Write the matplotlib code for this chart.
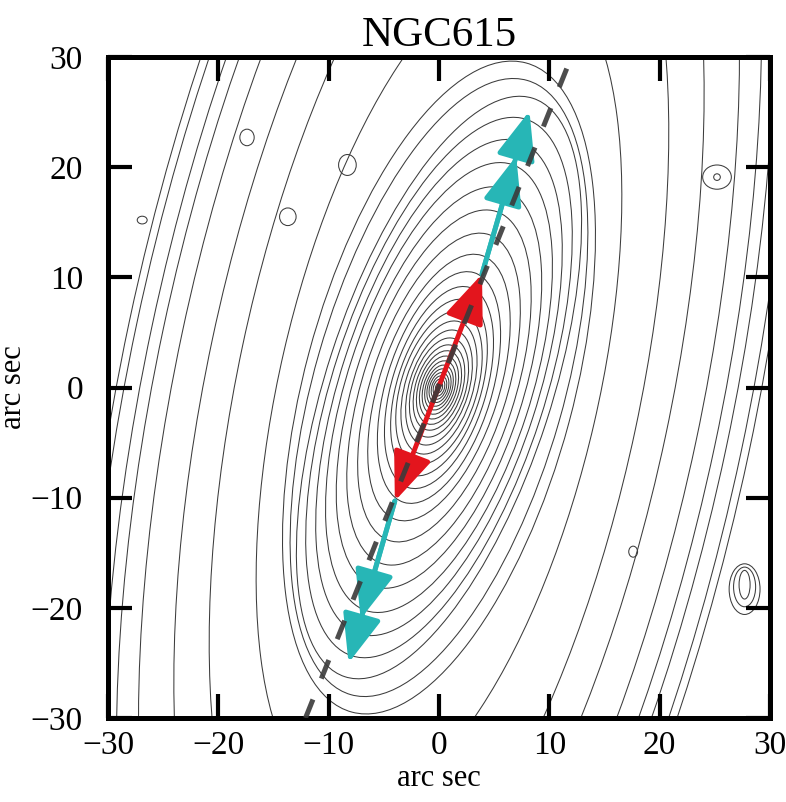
import matplotlib
matplotlib.use('Agg')
import matplotlib.pyplot as plt
from matplotlib.patches import Ellipse

plt.rcParams['font.family'] = ['Liberation Serif', 'DejaVu Serif']

# isophotes: semi-major axis (arcsec), axis ratio, angle from +x (deg)
iso_a = [0.5, 0.8, 1.1, 1.4, 1.75, 2.1, 2.5, 2.95, 3.45, 4.0, 4.65, 5.4, 6.25, 7.2, 8.3, 9.5, 10.9,
         12.6, 14.6, 16.8, 19.0, 21.3, 23.5, 25.6, 27.6,
         29.0, 30.5, 39.0,
         52.0, 60.0, 68.0, 73.0, 76.0, 80.0, 82.0]
iso_q = [0.62, 0.62, 0.60, 0.60, 0.58, 0.57, 0.56, 0.55, 0.54, 0.53, 0.52, 0.50, 0.49, 0.48, 0.46, 0.45, 0.44,
         0.43, 0.42, 0.41, 0.40, 0.39, 0.38, 0.375, 0.37,
         0.39, 0.40, 0.37,
         0.35, 0.35, 0.35, 0.35, 0.35, 0.35, 0.35]
iso_pa = [73] * 17 + [72] * 8 + [74, 75, 77] + [78] * 7

# small knots / field objects: centre, width, height (arcsec)
src_x = [-17.4, -8.3, -13.7, -26.9, 25.2, 25.2, 17.6, 27.7, 27.7, 27.7]
src_y = [22.7, 20.2, 15.5, 15.2, 19.1, 19.1, -14.9, -18.3, -18.1, -17.9]
src_w = [1.3, 1.6, 1.5, 0.9, 2.6, 0.6, 0.8, 2.8, 2.0, 1.0]
src_h = [1.5, 1.9, 1.6, 0.7, 2.2, 0.6, 1.0, 4.6, 3.6, 2.6]

# position-angle line and kinematic arrows
pa_x = [-12.1, 12.0]
pa_y = [-30.0, 30.0]
red_start = (-4.0, -10.3)
red_end = (3.9, 10.3)
cyan_up_start = (3.9, 10.3)
cyan_up_tips = [(7.0, 21.0), (8.2, 25.1)]
cyan_dn_start = (-4.0, -10.3)
cyan_dn_tips = [(-7.1, -21.0), (-8.2, -25.0)]

ticks = [-30, -20, -10, 0, 10, 20, 30]

fig = plt.figure(figsize=(7.86, 8.02), dpi=100)
ax = fig.add_axes([0.1374, 0.1047, 0.8422, 0.8242])

for a, q, pa in zip(iso_a, iso_q, iso_pa):
    ax.add_patch(Ellipse((0, 0), 2 * a, 2 * a * q, angle=pa, fill=False,
                         ec='#3c3c3c', lw=0.75))
for x, y, w, h in zip(src_x, src_y, src_w, src_h):
    ax.add_patch(Ellipse((x, y), w, h, fill=False, ec='#3c3c3c', lw=0.75))

# arrows
red = '#e3151d'
cyan = '#27b6b6'
head = 'head_length=1.5,head_width=0.6'
ax.annotate('', xy=red_end, xytext=red_start,
            arrowprops=dict(arrowstyle='<|-|>,' + head,
                            color=red, lw=3.5, mutation_scale=20, shrinkA=0, shrinkB=0),
            zorder=5)
for start, tips in [(cyan_up_start, cyan_up_tips), (cyan_dn_start, cyan_dn_tips)]:
    for tip in tips:
        ax.annotate('', xy=tip, xytext=start,
                    arrowprops=dict(arrowstyle='-|>,' + head,
                                    color=cyan, lw=3.5, mutation_scale=20,
                                    shrinkA=0, shrinkB=0),
                    zorder=4)

ax.plot(pa_x, pa_y, color='#3a3a3a', lw=3.6, ls=(0, (4, 4.5)),
        dash_capstyle='butt', alpha=0.9, zorder=6)

ax.set_xlim(-30, 30)
ax.set_ylim(-30, 30)
ax.set_xticks(ticks)
ax.set_yticks(ticks)
ax.tick_params(direction='in', length=17, width=3, top=True, right=True,
               labelsize=24)
ax.tick_params(axis='x', pad=9)
ax.tick_params(axis='y', pad=18)
for s in ax.spines.values():
    s.set_linewidth(3.6)

ax.set_xlabel('arc sec', fontsize=22, labelpad=2)
ax.set_ylabel('arc sec', fontsize=22, labelpad=2)
ax.set_title('NGC615', fontsize=31, pad=8)

fig.savefig('out.png', dpi=100)
